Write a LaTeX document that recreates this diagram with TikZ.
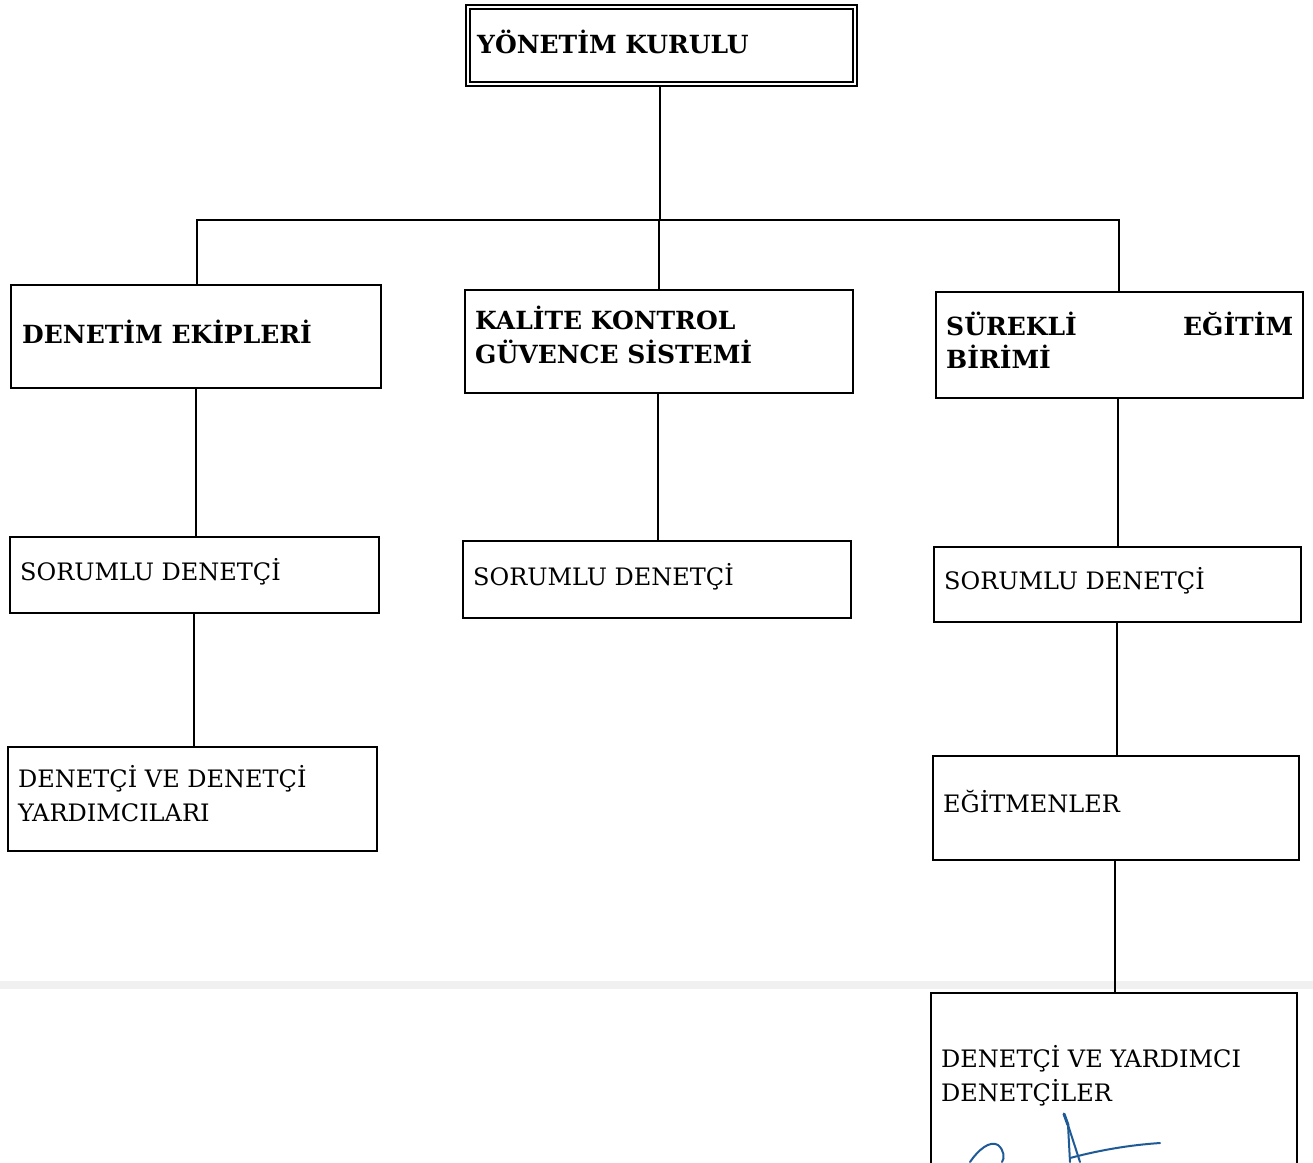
\documentclass[tikz,border=0pt]{standalone}
\usepackage{fontspec}
\setmainfont{DejaVu Serif}
\begin{document}
\begin{tikzpicture}[x=1pt,y=-1pt,
  box/.style={draw=black,line width=1.3pt,inner sep=0pt},
  conn/.style={draw=black,line width=1.3pt},
  lbl/.style={anchor=base west,inner sep=0pt,font=\fontsize{24}{34}\selectfont},
  blbl/.style={anchor=base west,inner sep=0pt,font=\fontsize{25}{34}\selectfont\bfseries},
  sig/.style={draw={rgb,255:red,30;green,90;blue,150},line width=2pt,line cap=round}]
\useasboundingbox (0,0) rectangle (1313,1162);
\fill[white] (0,0) rectangle (1313,1162);
% scan artifact band
\fill[black!6] (0,981) rectangle (1313,989);
% boxes
\draw[line width=1.3pt] (466,5) rectangle (857,86);
\draw[line width=1.3pt] (470,9) rectangle (853,82);
\draw[box] (11,285) rectangle (381,388);
\draw[box] (465,290) rectangle (853,393);
\draw[box] (936,292) rectangle (1303,398);
\draw[box] (10,537) rectangle (379,613);
\draw[box] (463,541) rectangle (851,618);
\draw[box] (934,547) rectangle (1301,622);
\draw[box] (8,747) rectangle (377,851);
\draw[box] (933,756) rectangle (1299,860);
\draw[box] (931,1170) -- (931,993) -- (1297,993) -- (1297,1170);
% connectors
\draw[conn] (660,86) -- (660,220);
\draw[conn] (197,285) -- (197,220) -- (1119,220) -- (1119,292);
\draw[conn] (659,220) -- (659,290);
\draw[conn] (196,388) -- (196,537);
\draw[conn] (658,393) -- (658,541);
\draw[conn] (1118,398) -- (1118,547);
\draw[conn] (194,613) -- (194,747);
\draw[conn] (1117,622) -- (1117,756);
\draw[conn] (1115,860) -- (1115,993);
% texts
\node[blbl] (t0) at (477,53) {YÖNETİM KURULU};
\node[blbl] (t1) at (22,343) {DENETİM EKİPLERİ};
\node[blbl] (t2a) at (475,329) {KALİTE KONTROL};
\node[blbl] (t2b) at (475,363) {GÜVENCE SİSTEMİ};
\node[blbl] (t3a) at (946,335) {\makebox[347pt][s]{SÜREKLİ\hfill EĞİTİM}};
\node[blbl] (t3b) at (946,368) {BİRİMİ};
\node[lbl] (t4) at (20,580) {SORUMLU DENETÇİ};
\node[lbl] (t5) at (473,585) {SORUMLU DENETÇİ};
\node[lbl] (t6) at (944,589) {SORUMLU DENETÇİ};
\node[lbl] (t7a) at (18,787) {DENETÇİ VE DENETÇİ};
\node[lbl] (t7b) at (18,821) {YARDIMCILARI};
\node[lbl] (t8) at (943,812) {EĞİTMENLER};
\node[lbl] (t9a) at (941,1067) {DENETÇİ VE YARDIMCI};
\node[lbl] (t9b) at (941,1101) {DENETÇİLER};
% signature
\draw[sig] (970,1162) .. controls (978,1150) and (990,1140) .. (998,1145) .. controls (1004,1150) and (1005,1158) .. (1002,1162);
\draw[sig,line width=3pt] (1064,1114) -- (1068,1125);
\draw[sig] (1068,1125) -- (1080,1162);
\draw[sig] (1068,1125) -- (1070,1162);
\draw[sig] (1070,1158) .. controls (1100,1150) and (1130,1145) .. (1160,1143);
\end{tikzpicture}
\end{document}
